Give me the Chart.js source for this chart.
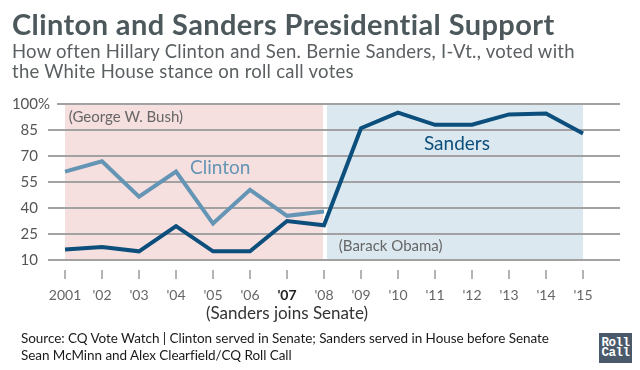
<!DOCTYPE html>
<html>
<head>
<meta charset="utf-8">
<script src="https://cdn.jsdelivr.net/npm/chart.js@4/dist/chart.umd.min.js"></script>
<style>
    body { margin: 0; background: #fff; }
    #wrap { position: relative; width: 640px; height: 370px; overflow: hidden; font-family: Lato, "Open Sans", sans-serif; }
    #grafico { position: absolute; left: 0; top: 0; }
    .titulo { position: absolute; left: 12px; top: 8.5px; font-size: 29px; line-height: 29px; letter-spacing: 0.4px; font-weight: 700; color: #4d585c; white-space: nowrap; }
    .subtitulo { position: absolute; left: 12px; top: 42px; font-size: 18.5px; line-height: 19.5px; letter-spacing: 0.25px; color: #5a5f61; white-space: nowrap; }
    .fonte { position: absolute; left: 21px; top: 329.5px; font-size: 13.5px; line-height: 17px; letter-spacing: -0.05px; color: #1a1a1a; white-space: nowrap; }
    .logo { position: absolute; left: 599px; top: 333px; width: 33px; height: 30px; background: #4b5a6b; color: #fff;
            font-family: "Liberation Mono", "DejaVu Sans Mono", monospace; font-weight: 700; font-size: 12.5px; line-height: 10px;
            text-align: center; padding-top: 5px; box-sizing: border-box; letter-spacing: -0.5px; }
</style>
</head>
<body>
<div id="wrap">
    <canvas id="grafico" width="640" height="370"></canvas>
    <div class="titulo">Clinton and Sanders Presidential Support</div>
    <div class="subtitulo">How often Hillary Clinton and Sen. Bernie Sanders, I-Vt., voted with<br>the White House stance on roll call votes</div>
    <div class="fonte">Source: CQ Vote Watch | Clinton served in Senate; Sanders served in House before Senate<br>Sean McMinn and Alex Clearfield/CQ Roll Call</div>
    <div class="logo">Roll<br>Call</div>
</div>
<script>
const years = [2001, 2002, 2003, 2004, 2005, 2006, 2007, 2008, 2009, 2010, 2011, 2012, 2013, 2014, 2015];
const yearLabels = ['2001', "'02", "'03", "'04", "'05", "'06", "'07", "'08", "'09", "'10", "'11", "'12", "'13", "'14", "'15"];
const clintonSupport = [61, 67, 46.5, 61, 31, 50.5, 35.5, 38];
const sandersSupport = [16, 17.5, 15, 29.5, 15, 15, 32.5, 30, 86, 95, 88, 88, 94, 94.5, 83];
const yTicks = [10, 25, 40, 55, 70, 85, 100];
const bushYears = [2001, 2008];
const obamaYears = [2008, 2015];
const senateYear = 2007;

const corClinton = '#6595b5';
const corSanders = '#0c4e7c';

function pontos(valores) {
    return valores.map((v, i) => ({ x: years[i], y: v }));
}

// fundo, grade e rotulos desenhados com as escalas do grafico
const decoracao = {
    id: 'decoracao',
    beforeDatasetsDraw(chart) {
        const ctx = chart.ctx;
        const x = chart.scales.x;
        const y = chart.scales.y;
        const topo = y.getPixelForValue(100);
        const base = y.getPixelForValue(10);

        ctx.save();
        ctx.fillStyle = '#f6dfdf';
        ctx.fillRect(x.getPixelForValue(bushYears[0]), topo, x.getPixelForValue(bushYears[1]) - 1 - x.getPixelForValue(bushYears[0]), base - topo);
        ctx.fillStyle = '#dbe8ef';
        ctx.fillRect(x.getPixelForValue(obamaYears[0]) + 3, topo, x.getPixelForValue(obamaYears[1]) - 3 - x.getPixelForValue(obamaYears[0]), base - topo);

        ctx.strokeStyle = '#a2a2a2';
        ctx.lineWidth = 2;
        yTicks.forEach(v => {
            const py = y.getPixelForValue(v);
            ctx.beginPath();
            ctx.moveTo(v === 100 ? 57 : chart.chartArea.left, py);
            ctx.lineTo(chart.chartArea.right, py);
            ctx.stroke();
        });

        ctx.font = '15px Lato';
        ctx.fillStyle = '#666';
        ctx.textBaseline = 'alphabetic';
        ctx.textAlign = 'left';
        ctx.fillText('(George W. Bush)', x.getPixelForValue(2001.1), y.getPixelForValue(89.6));
        ctx.fillText('(Barack Obama)', x.getPixelForValue(2008.4), y.getPixelForValue(15));

        ctx.font = '19px Lato';
        ctx.fillStyle = corClinton;
        ctx.fillText('Clinton', x.getPixelForValue(2004.38), y.getPixelForValue(59.6));
        ctx.fillStyle = corSanders;
        ctx.fillText('Sanders', x.getPixelForValue(2010.7), y.getPixelForValue(73.5));
        ctx.restore();
    },
    afterDraw(chart) {
        const ctx = chart.ctx;
        const x = chart.scales.x;
        const y = chart.scales.y;
        const base = y.getPixelForValue(10);

        ctx.save();
        ctx.font = '15px Lato';
        ctx.fillStyle = '#555';
        ctx.textBaseline = 'middle';
        yTicks.forEach(v => {
            const py = y.getPixelForValue(v);
            ctx.textAlign = 'right';
            ctx.fillText(String(v), 38, py);
            if (v === 100) {
                ctx.textAlign = 'left';
                ctx.fillText('%', 38, py);
            }
        });

        ctx.strokeStyle = '#9a9a9a';
        ctx.lineWidth = 1.5;
        ctx.textAlign = 'center';
        ctx.textBaseline = 'alphabetic';
        years.forEach((ano, i) => {
            const px = x.getPixelForValue(ano);
            ctx.beginPath();
            ctx.moveTo(px, base + 10);
            ctx.lineTo(px, base + 19);
            ctx.stroke();
            if (ano === senateYear) {
                ctx.font = 'bold 14px Lato';
                ctx.fillStyle = '#222';
            } else {
                ctx.font = '14px Lato';
                ctx.fillStyle = '#666';
            }
            ctx.fillText(yearLabels[i], px, base + 40);
        });

        ctx.font = '17px Lato';
        ctx.fillStyle = '#333';
        ctx.fillText('(Sanders joins Senate)', x.getPixelForValue(senateYear), base + 59);
        ctx.restore();
    }
};

const chart = new Chart(document.getElementById('grafico').getContext('2d'), {
    type: 'line',
    data: {
        datasets: [
            {
                label: 'Sanders',
                data: pontos(sandersSupport),
                borderColor: corSanders,
                borderWidth: 4,
                borderJoinStyle: 'miter',
                pointRadius: 0,
                tension: 0,
                clip: false
            },
            {
                label: 'Clinton',
                data: pontos(clintonSupport),
                borderColor: corClinton,
                borderWidth: 4,
                borderJoinStyle: 'miter',
                pointRadius: 0,
                tension: 0,
                clip: false
            }
        ]
    },
    options: {
        responsive: false,
        animation: false,
        layout: { padding: { left: 48, right: 20, top: 104, bottom: 110 } },
        scales: {
            x: { type: 'linear', display: false, min: 2000.54, max: 2016 },
            y: { display: false, min: 10, max: 100 }
        },
        plugins: {
            legend: { display: false },
            tooltip: { enabled: false }
        }
    },
    plugins: [decoracao]
});
</script>
</body>
</html>
